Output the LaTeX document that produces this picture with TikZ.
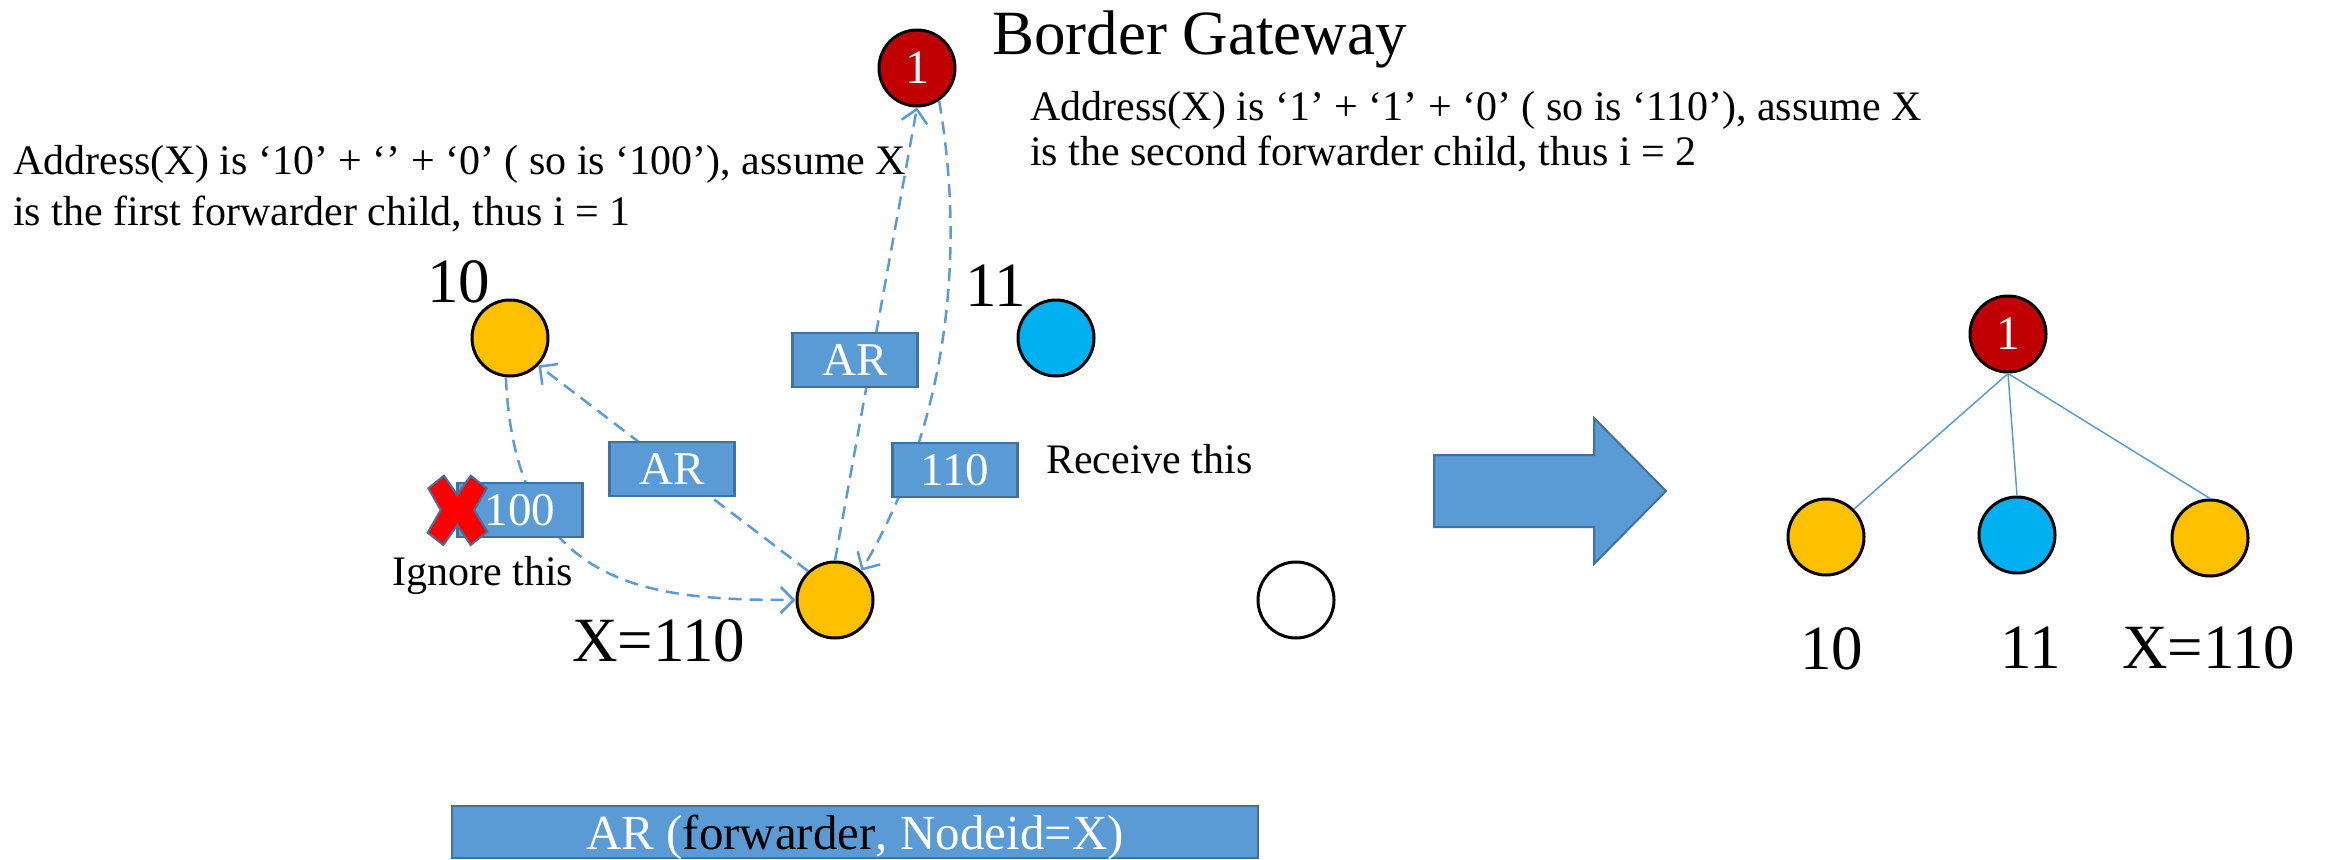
\documentclass[tikz,border=0pt]{standalone}
\usepackage{fontspec}
\setmainfont{Liberation Serif}
\usetikzlibrary{arrows.meta}
\definecolor{boxblue}{HTML}{5B9BD5}
\definecolor{boxedge}{HTML}{41719C}
\definecolor{lineblue}{HTML}{5B9BD5}
\definecolor{nodered}{HTML}{C00000}
\definecolor{nodeyellow}{HTML}{FFC000}
\definecolor{nodecyan}{HTML}{00B0F0}
\definecolor{crossred}{HTML}{FF0000}
\tikzset{
  circ/.style={circle, draw=black, line width=3pt, minimum size=76pt, inner sep=0pt},
  msgbox/.style={rectangle, draw=boxedge, fill=boxblue, line width=2.5pt, minimum width=125pt, minimum height=54pt, inner sep=0pt, text=white, font=\fontsize{47}{50}\selectfont, text depth=0pt},
  conn/.style={draw=lineblue, line width=2.5pt, dash pattern=on 13pt off 8pt, -{Straight Barb[length=13pt,width=26pt]}},
  tline/.style={draw=lineblue, line width=1.5pt},
  biglabel/.style={font=\fontsize{63}{70}\selectfont, inner sep=0pt, anchor=base west},
  smalltext/.style={font=\fontsize{42}{48}\selectfont, inner sep=0pt, anchor=base west},
  nodenum/.style={text=white, font=\fontsize{48}{50}\selectfont},
}
\begin{document}
\begin{tikzpicture}[x=1pt,y=-1pt]
\useasboundingbox (0,0) rectangle (2325,859);
\clip (0,0) rectangle (2325,859);
\fill[white] (0,0) rectangle (2325,859);

% left network nodes
\node[circ, fill=nodered, nodenum] (R) at (917,68) {1};
\node[circ, fill=nodeyellow] (N10) at (510,338) {};
\node[circ, fill=nodecyan] (N11) at (1056,338) {};
\node[circ, fill=nodeyellow] (X) at (835,600) {};
\node[circ, fill=white] (W) at (1296,600) {};

% connectors
\draw[conn] (X.north) -- (R.south);
\draw[conn] (R.-56) .. controls (965,250) and (950,420) .. (X.48);
\draw[conn] (X.133) -- (N10.-44);
\draw[conn] (N10.-96) .. controls (515,590) and (650,600) .. (X.180);

% message boxes
\node[msgbox] (ar1) at (855,360) {AR};
\node[msgbox] (ar2) at (672,469) {AR};
\node[msgbox] (m110) at (955,470) {110};
\node[msgbox] (m100) at (520,510) {100};

% red cross
\filldraw[fill=crossred, draw=boxedge, line width=2pt]
  (428.3,488.3) -- (444,475.7) -- (457.3,495) -- (470.7,475.7) -- (486.7,488.3)
  -- (474.3,510) -- (487.3,531.7) -- (470.7,545) -- (457.3,525) -- (443.3,545)
  -- (427.7,532.7) -- (440.7,510) -- cycle;

% texts
\node[biglabel] (bg) at (992,55) {Border Gateway};
\node[smalltext] (ta1) at (1030,120) {Address(X) is ‘1’ + ‘1’ + ‘0’ ( so is ‘110’), assume X};
\node[smalltext] (ta2) at (1030,165) {is the second forwarder child, thus i = 2};
\node[smalltext] (tb1) at (13,174) {Address(X) is ‘10’ + ‘’ + ‘0’ ( so is ‘100’), assume X};
\node[smalltext] (tb2) at (13,225) {is the first forwarder child, thus i = 1};
\node[biglabel] (l10) at (427,302) {10};
\node[biglabel] (l11) at (965,306) {11};
\node[biglabel] (lx) at (572,661) {X=110};
\node[smalltext] (recv) at (1046,473) {Receive this};
\node[smalltext] (ign) at (392,585) {Ignore this};

% bottom box
\node[rectangle, draw=boxedge, fill=boxblue, line width=2.5pt, minimum width=806pt, minimum height=52pt, inner sep=0pt, font=\fontsize{49}{52}\selectfont, text depth=0pt] (bottom) at (855,832)
  {{\color{white}AR (}{\color{black}forwarder}{\color{white}, Nodeid=X)}};

% block arrow
\filldraw[fill=boxblue, draw=boxedge, line width=2pt]
  (1434,455) -- (1594,455) -- (1594,418) -- (1666,491) -- (1594,564) -- (1594,527) -- (1434,527) -- cycle;

% right tree
\node[circ, fill=nodered, nodenum] (R2) at (2008,334) {1};
\node[circ, fill=nodeyellow] (T10) at (1826,537) {};
\node[circ, fill=nodecyan] (T11) at (2017,535) {};
\node[circ, fill=nodeyellow] (TX) at (2210,538) {};
\draw[tline] (R2.south) -- (T10.north east);
\draw[tline] (R2.south) -- (T11.north);
\draw[tline] (R2.south) -- (TX.north);
\node[biglabel] (r10) at (1800,669) {10};
\node[biglabel] (r11) at (2000,668) {11};
\node[biglabel] (rx) at (2122,668) {X=110};
\end{tikzpicture}
\end{document}
